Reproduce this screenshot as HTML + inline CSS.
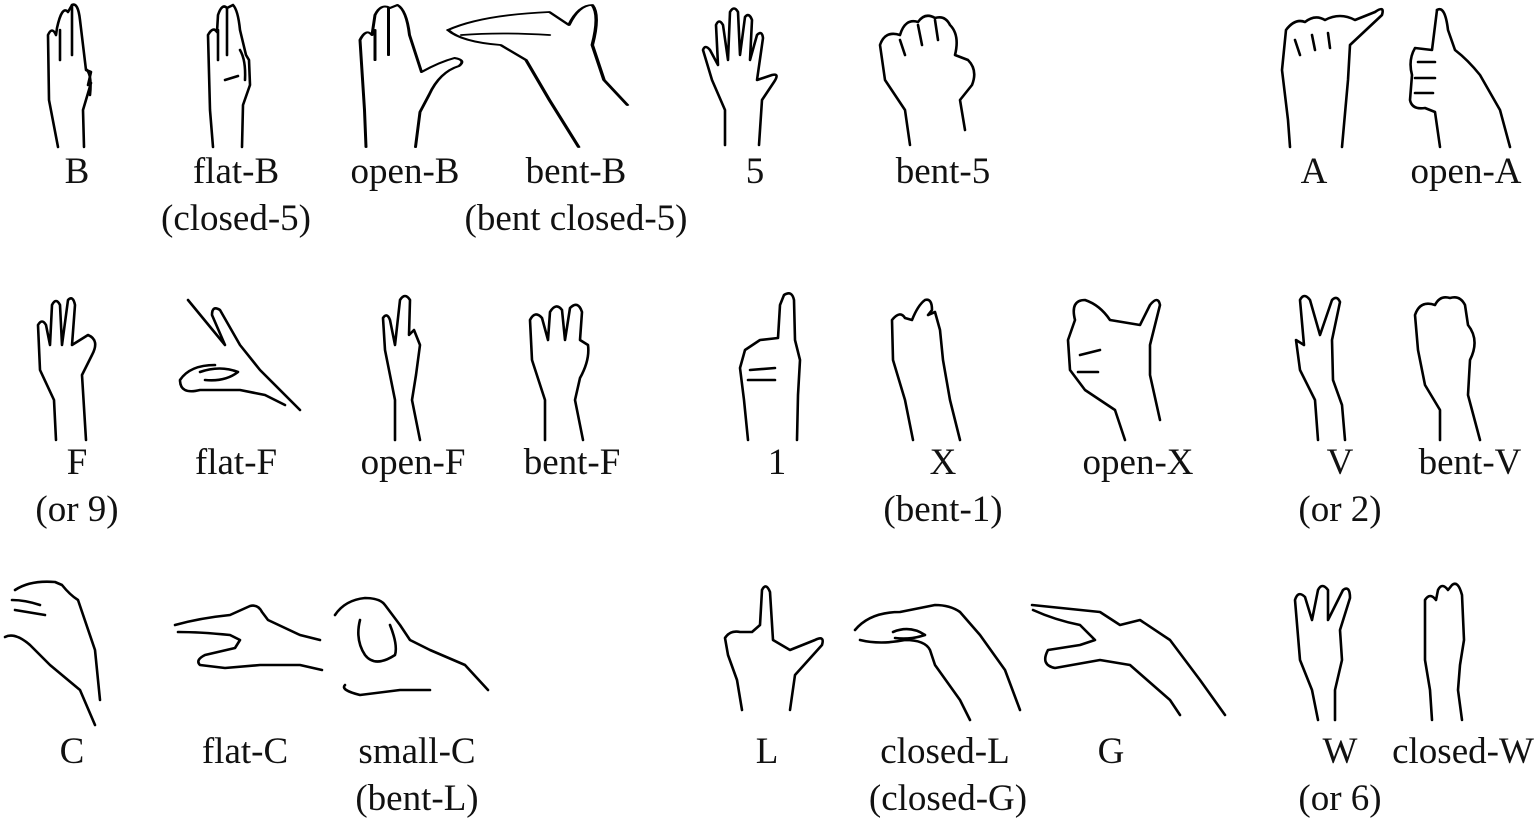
<!DOCTYPE html>
<html><head><meta charset="utf-8"><style>
html,body{margin:0;padding:0;background:#fff;}
body{width:1536px;height:819px;position:relative;overflow:hidden;}
.t{position:absolute;font-family:"Liberation Serif",serif;font-size:37px;color:#111;transform:translateX(-50%);white-space:nowrap;line-height:1;}
svg{position:absolute;left:0;top:0;}
path{fill:none;stroke:#000;stroke-width:2.6;stroke-linecap:round;stroke-linejoin:round;}
</style></head><body>
<svg width="1536" height="819" viewBox="0 0 1536 819">
<g transform="translate(12,0)">
<path d="M46,147 L37,100 L36,35 Q40,26 44,35 L45,28 Q50,5 56,12 L60,5 Q66,2 68,20 L74,70 L79,72 L76,85"/>
<path d="M60,5 L60,55 M48,30 L48,60"/>
<path d="M75,70 Q80,76 78,95 M72,147 L71,110 L79,83"/>
</g>
<g transform="translate(50,0)">
<path d="M163,147 L160,110 L158,35 Q163,26 167,32 L168,15 Q172,3 177,8 L183,5 Q188,10 190,30 L196,55 L199,60 L200,85 L193,105 L192,147"/>
<path d="M177,8 L177,55 M168,30 L168,60 M190,50 Q196,60 195,80 M175,80 L188,76"/>
</g>
<g transform="translate(360,0) scale(1.5,1) translate(-272,0)">
<path d="M276,147 L275,110 L272,40 Q276,28 280,35 L282,15 Q286,3 292,8 L297,5 Q303,10 305,35 L313,72 Q325,62 335,58 Q343,60 338,66 Q325,72 318,95 L312,112 L309,147" style="stroke-width:2"/>
<path d="M291,8 L291,55 M282,30 L282,60" style="stroke-width:2"/>
</g>
<g transform="translate(448,0) scale(1.95,1) translate(-378,0)">
<path d="M378,30 Q395,15 430,12 L440,25 Q445,5 452,5 Q456,15 452,45 L458,80 L470,105" style="stroke-width:1.8"/>
<path d="M378,30 Q385,42 405,45 L418,60 L430,100 L445,147" style="stroke-width:1.8"/>
<path d="M385,35 Q405,32 430,35" style="stroke-width:1.8"/>
</g>
<path d="M725,145 L725,110 L712,80 L703,50 Q705,44 710,50 L718,65 L716,25 Q719,18 723,25 L728,60 L730,12 Q734,5 738,12 L740,55 L745,17 Q749,12 752,20 L750,60 L757,35 Q762,30 763,38 L757,80 L772,75 Q780,73 774,82 L762,100 L759,145"/>
<path d="M910,145 L905,110 L885,80 L880,45 Q885,30 900,35 Q905,18 918,22 Q925,12 935,18 Q945,15 950,25 Q960,35 955,55 L968,60 Q978,70 972,85 L960,100 L965,130"/>
<path d="M900,40 L905,55 M918,25 L922,45 M935,20 L938,40"/>
<path d="M1290,147 L1288,120 L1282,70 L1286,30 Q1295,18 1305,22 Q1315,14 1325,20 Q1340,12 1355,20 L1375,12 Q1385,5 1382,15 L1350,45 L1348,80 L1342,147"/>
<path d="M1295,40 L1300,55 M1312,35 L1315,50 M1328,33 L1330,48"/>
<path d="M1437,10 Q1445,5 1448,30 L1455,50 Q1468,60 1480,75 L1500,110 L1510,147"/>
<path d="M1437,10 L1432,50 L1415,48 Q1408,60 1412,75 L1410,100 Q1412,110 1425,108 L1435,112 L1440,147"/>
<path d="M1418,62 L1435,62 M1415,78 L1435,78 M1415,93 L1433,93"/>
<path d="M56,440 L54,400 L40,370 L38,325 Q42,318 46,325 L50,345 L52,305 Q56,297 60,305 L62,345 L68,300 Q73,295 75,305 L72,345 L88,335 Q100,340 92,355 L82,375 L86,440"/>
<path d="M188,300 L225,345 L212,315 Q212,305 220,310 L240,345 L260,370 L300,410"/>
<path d="M215,365 Q190,365 180,380 Q180,395 200,390 L240,390 L265,395 L285,405"/>
<path d="M200,372 Q220,365 238,372 Q225,382 205,380"/>
<path d="M395,440 L395,400 L385,350 L383,318 Q387,312 390,320 L395,345 L400,300 Q405,292 410,300 L409,335 L414,330 L420,345 L416,375 L412,400 L420,440"/>
<path d="M545,440 L545,400 L532,360 L530,320 Q535,310 542,318 L548,340 L550,312 Q556,302 562,310 L565,340 L570,308 Q578,300 582,312 L580,340 L588,345 Q590,360 580,378 L575,400 L583,440"/>
<path d="M748,440 L744,400 L740,368 L745,350 L760,340 L778,338 L780,305 L784,295 Q792,290 794,300 L795,340 L800,360 L798,395 L797,440"/>
<path d="M750,370 L775,368 M748,380 L775,380"/>
<path d="M913,440 L905,400 L893,360 L892,320 Q900,310 905,318 L912,320 Q918,305 925,300 Q932,298 932,310 L928,315 L935,312 L940,330 L943,360 L950,400 L960,440"/>
<path d="M1125,440 L1115,410 L1085,390 L1070,370 L1068,340 L1075,320 Q1070,300 1085,300 Q1100,305 1110,320 L1140,325 L1150,305 Q1158,295 1160,305 L1150,345 L1150,375 L1160,420"/>
<path d="M1080,355 L1100,350 M1078,372 L1098,372"/>
<path d="M1318,440 L1315,400 L1300,370 L1296,340 L1304,345 L1300,300 Q1304,292 1310,300 L1320,335 L1332,300 Q1337,295 1340,302 L1332,340 L1333,380 L1342,405 L1345,440"/>
<path d="M1440,440 L1440,410 L1425,385 L1418,350 L1415,315 Q1420,300 1435,305 Q1440,295 1450,298 Q1460,295 1465,305 L1468,325 Q1480,340 1470,360 L1468,395 L1480,440"/>
<path d="M15,590 Q30,580 55,582 L62,585 Q70,595 78,600 L95,650 L100,700"/>
<path d="M12,600 Q25,600 40,605 M15,610 L45,615"/>
<path d="M5,637 Q15,632 30,645 L50,665 L80,690 L95,725"/>
<path d="M175,625 Q200,618 230,615 L250,606 Q258,604 262,612 L268,620 L300,635 L320,640"/>
<path d="M178,632 Q200,632 230,635 L240,640 L235,648 L205,655 Q195,660 200,665 L225,668 L260,665 L300,665 L322,670"/>
<path d="M335,615 Q345,600 365,598 Q380,598 385,605 L400,625 L410,640 L430,650 L465,665 L488,690"/>
<path d="M360,620 Q355,640 365,655 Q375,668 395,655 Q398,645 390,625"/>
<path d="M345,685 Q340,690 360,695 L400,690 L430,690"/>
<path d="M742,710 L737,680 L728,655 L725,638 Q730,630 740,632 L752,632 L760,625 L762,590 Q766,582 770,592 L773,640 L790,650 L815,640 Q825,635 822,645 L795,675 L790,710"/>
<path d="M855,630 Q870,612 900,612 L935,605 Q950,605 960,612 L980,635 L1005,670 L1020,710"/>
<path d="M860,640 Q880,645 905,640 Q925,640 930,650 L935,665 L960,700 L970,720"/>
<path d="M893,632 Q910,625 925,635 Q910,640 895,638"/>
<path d="M1032,605 L1100,612 L1120,625 L1140,620 L1170,640 L1200,680 L1225,715"/>
<path d="M1033,610 Q1055,620 1080,625 L1095,640 L1080,645 L1048,650 Q1040,665 1055,668 L1100,660 L1130,665 L1170,700 L1180,715"/>
<path d="M1318,720 L1312,690 L1300,660 L1295,600 Q1298,590 1305,597 L1312,620 L1318,590 Q1322,582 1328,590 L1328,620 L1343,590 Q1350,585 1350,598 L1340,630 L1342,660 L1335,690 L1335,720"/>
<path d="M1432,720 L1430,690 L1425,660 L1425,600 Q1430,592 1436,600 L1438,590 Q1442,582 1448,590 L1452,585 Q1458,580 1462,595 L1464,640 L1460,665 L1458,690 L1462,720"/>
</svg>
<div class="t" style="left:77px;top:153px">B</div>
<div class="t" style="left:236px;top:153px">flat-B</div>
<div class="t" style="left:236px;top:200px">(closed-5)</div>
<div class="t" style="left:405px;top:153px">open-B</div>
<div class="t" style="left:576px;top:153px">bent-B</div>
<div class="t" style="left:576px;top:200px">(bent closed-5)</div>
<div class="t" style="left:755px;top:153px">5</div>
<div class="t" style="left:943px;top:153px">bent-5</div>
<div class="t" style="left:1314px;top:153px">A</div>
<div class="t" style="left:1466px;top:153px">open-A</div>

<div class="t" style="left:77px;top:444px">F</div>
<div class="t" style="left:77px;top:491px">(or 9)</div>
<div class="t" style="left:236px;top:444px">flat-F</div>
<div class="t" style="left:413px;top:444px">open-F</div>
<div class="t" style="left:572px;top:444px">bent-F</div>
<div class="t" style="left:777px;top:444px">1</div>
<div class="t" style="left:943px;top:444px">X</div>
<div class="t" style="left:943px;top:491px">(bent-1)</div>
<div class="t" style="left:1138px;top:444px">open-X</div>
<div class="t" style="left:1340px;top:444px">V</div>
<div class="t" style="left:1340px;top:491px">(or 2)</div>
<div class="t" style="left:1470px;top:444px">bent-V</div>

<div class="t" style="left:72px;top:733px">C</div>
<div class="t" style="left:245px;top:733px">flat-C</div>
<div class="t" style="left:417px;top:733px">small-C</div>
<div class="t" style="left:417px;top:780px">(bent-L)</div>
<div class="t" style="left:767px;top:733px">L</div>
<div class="t" style="left:945px;top:733px">closed-L</div>
<div class="t" style="left:948px;top:780px">(closed-G)</div>
<div class="t" style="left:1111px;top:733px">G</div>
<div class="t" style="left:1340px;top:733px">W</div>
<div class="t" style="left:1340px;top:780px">(or 6)</div>
<div class="t" style="left:1463px;top:733px">closed-W</div>
</body></html>
